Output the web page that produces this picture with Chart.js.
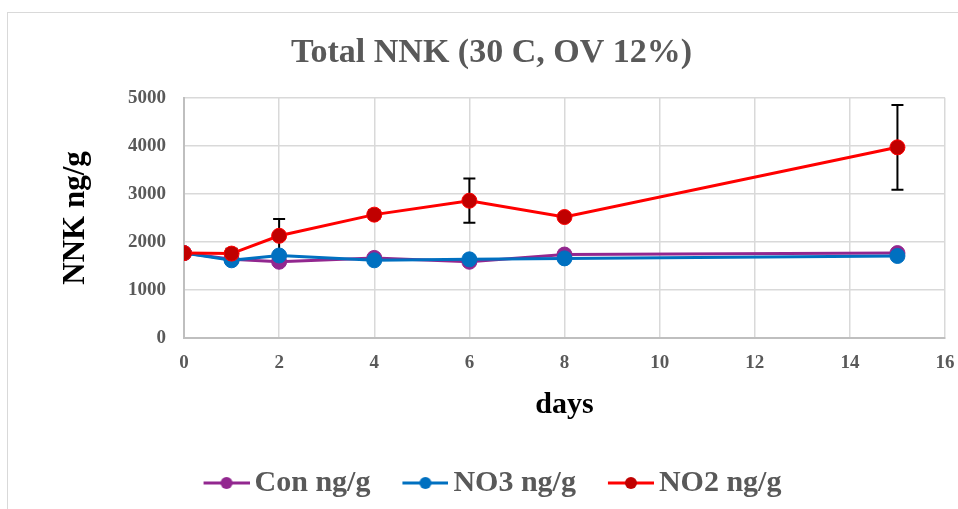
<!DOCTYPE html>
<html>
<head>
<meta charset="utf-8">
<script src="https://cdn.jsdelivr.net/npm/chart.js@4.4.0/dist/chart.umd.min.js"></script>
<style>
  body { margin: 0; background: #fff; }
  #wrap { position: relative; width: 958px; height: 509px; }
  #frame { position: absolute; left: 7px; top: 12px; width: 960px; height: 520px; border: 1px solid #d9d9d9; box-sizing: border-box; }
  canvas { position: absolute; left: 0; top: 0; }
</style>
</head>
<body>
<div id="wrap">
  <div id="frame"></div>
  <canvas id="grafico" width="958" height="509"></canvas>
</div>
<script>
// dados
var dias = [0, 1, 2, 4, 6, 8, 15];
var conValores = [1770, 1640, 1590, 1670, 1590, 1740, 1770];
var no3Valores = [1770, 1620, 1720, 1620, 1640, 1660, 1710];
var no2Valores = [1770, 1760, 2130, 2570, 2860, 2520, 3970];
var no2Erro = [0, 100, 350, 90, 460, 0, 880];

var serif = "'Liberation Serif', 'Times New Roman', serif";
var cinza = '#595959';

function pontos(valores) {
    return dias.map(function (d, i) { return { x: d, y: valores[i] }; });
}

// linha + ponto para a legenda (estilo Excel)
function marcadorLegenda(cor, corPonto) {
    var c = document.createElement('canvas');
    c.width = 58; c.height = 16;
    var ctx = c.getContext('2d');
    ctx.strokeStyle = cor;
    ctx.lineWidth = 3;
    ctx.beginPath(); ctx.moveTo(12, 8); ctx.lineTo(58, 8); ctx.stroke();
    ctx.fillStyle = corPonto;
    ctx.beginPath(); ctx.arc(35, 8, 6, 0, Math.PI * 2); ctx.fill();
    return c;
}

var barrasErro = {
    id: 'barrasErro',
    beforeDatasetsDraw: function (chart) {
        var ctx = chart.ctx;
        var sx = chart.scales.x, sy = chart.scales.y;
        ctx.save();
        ctx.strokeStyle = '#000';
        ctx.lineWidth = 2;
        for (var i = 0; i < dias.length; i++) {
            if (!no2Erro[i]) continue;
            var px = sx.getPixelForValue(dias[i]);
            var top = sy.getPixelForValue(no2Valores[i] + no2Erro[i]);
            var bot = sy.getPixelForValue(no2Valores[i] - no2Erro[i]);
            ctx.beginPath();
            ctx.moveTo(px, top); ctx.lineTo(px, bot);
            ctx.moveTo(px - 6, top); ctx.lineTo(px + 6, top);
            ctx.moveTo(px - 6, bot); ctx.lineTo(px + 6, bot);
            ctx.stroke();
        }
        ctx.restore();
    }
};

var series = [
    { label: 'Con ng/g', dados: conValores, cor: '#92278f', ponto: '#92278f', ordem: 3 },
    { label: 'NO3 ng/g', dados: no3Valores, cor: '#0070c0', ponto: '#0070c0', ordem: 2 },
    { label: 'NO2 ng/g', dados: no2Valores, cor: '#ff0000', ponto: '#c00000', ordem: 1 }
];

var datasets = series.map(function (s) {
    return {
        label: s.label,
        data: pontos(s.dados),
        showLine: true,
        borderColor: s.cor,
        backgroundColor: s.ponto,
        pointBackgroundColor: s.ponto,
        pointBorderColor: s.cor,
        pointBorderWidth: 1,
        borderWidth: 3,
        pointRadius: 7.5,
        order: s.ordem,
        pointStyle: 'circle',
        legendMarker: marcadorLegenda(s.cor, s.ponto)
    };
});

new Chart(document.getElementById('grafico'), {
    type: 'scatter',
    data: { datasets: datasets },
    plugins: [barrasErro],
    options: {
        responsive: false,
        animation: false,
        layout: { padding: { left: 38, right: 13, top: 14, bottom: 1 } },
        plugins: {
            tooltip: { enabled: false },
            title: {
                display: true,
                text: 'Total NNK (30 C, OV 12%)',
                color: cinza,
                font: { family: serif, size: 34, weight: 'bold' },
                padding: { top: 19, bottom: 24 }
            },
            legend: {
                position: 'bottom',
                labels: {
                    color: cinza,
                    font: { family: serif, size: 30, weight: 'bold' },
                    usePointStyle: true,
                    pointStyleWidth: 38,
                    padding: 30,
                    sort: function (a, b) { return a.datasetIndex - b.datasetIndex; },
                    generateLabels: function (chart) {
                        return chart.data.datasets.map(function (ds, i) {
                            return {
                                text: ds.label,
                                datasetIndex: i,
                                pointStyle: ds.legendMarker,
                                fontColor: cinza,
                                strokeStyle: ds.borderColor,
                                fillStyle: ds.backgroundColor,
                                lineWidth: 0,
                                hidden: false
                            };
                        });
                    }
                }
            }
        },
        scales: {
            x: {
                type: 'linear',
                min: 0, max: 16,
                ticks: { stepSize: 2, color: cinza, padding: 13, font: { family: serif, size: 19, weight: 'bold' } },
                grid: { color: '#d9d9d9', lineWidth: 1.5, drawTicks: false },
                border: { color: '#bfbfbf', width: 2 },
                title: { display: true, text: 'days', color: '#000', padding: { top: 0, bottom: 15 }, font: { family: serif, size: 30, weight: 'bold' } },
                afterFit: function (scale) { scale.paddingRight = 0; scale.paddingLeft = 0; }
            },
            y: {
                min: 0, max: 5000,
                ticks: {
                    stepSize: 1000, color: cinza, padding: 18,
                    font: { family: serif, size: 19, weight: 'bold' },
                    callback: function (v) { return String(v); }
                },
                grid: { color: '#d9d9d9', lineWidth: 1.5, drawTicks: false },
                border: { color: '#bfbfbf', width: 2 },
                title: { display: true, text: 'NNK ng/g', color: '#000', padding: { top: 19, bottom: 0 }, font: { family: serif, size: 31, weight: 'bold' } },
                afterFit: function (scale) { scale.width = 146; }
            }
        }
    }
});
</script>
</body>
</html>
